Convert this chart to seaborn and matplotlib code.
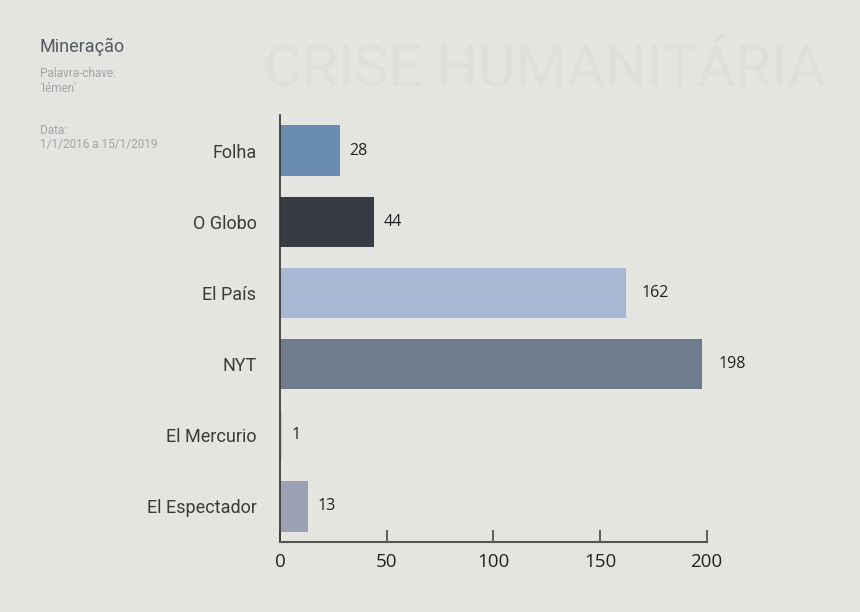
import matplotlib
matplotlib.use("Agg")
import matplotlib.pyplot as plt
import seaborn as sns
import pandas as pd

categories = ["Folha", "O Globo", "El País", "NYT", "El Mercurio", "El Espectador"]
values = [28, 44, 162, 198, 1, 13]
bar_colors = ["#6a8cb0", "#363b45", "#a6b8d4", "#6e7c8e", "#c3cfe0", "#9ba1b3"]
x_ticks = [0, 50, 100, 150, 200]

title = "Mineração"
sub1 = "Palavra-chave:\n'Iémen'"
sub2 = "Data:\n1/1/2016 a 15/1/2019"
watermark = "CRISE HUMANITÁRIA"

bg = "#e4e4e0"
sns.set_theme(style="white")
plt.rcParams['font.family'] = ['Roboto', 'DejaVu Sans']

df = pd.DataFrame({"veiculo": categories, "valor": values})

fig = plt.figure(figsize=(8.6, 6.12), dpi=100, facecolor=bg)
ax = fig.add_axes([0.3256, 0.1144, 0.8217 - 0.3256, 0.812 - 0.1144])
ax.set_facecolor(bg)

sns.barplot(data=df, x="valor", y="veiculo", hue="veiculo", palette=bar_colors,
            legend=False, width=0.71, ax=ax, saturation=1, edgecolor="none", linewidth=0)

ax.set_xlim(0, 200)
ax.set_ylim(5.5, -0.5)
ax.set_xticks(x_ticks)
ax.set_xticklabels([str(t) for t in x_ticks], fontsize=13.5, color="#222222", family="Open Sans")
ax.tick_params(axis="x", bottom=True, direction="in", length=9, width=1.3, color="#555555", pad=8)
ax.tick_params(axis="y", left=False, length=0, pad=17, labelsize=13, labelcolor="#3a3a3a")
ax.set_xlabel("")
ax.set_ylabel("")
for s in ["top", "right"]:
    ax.spines[s].set_visible(False)
ax.spines["left"].set_color("#333333")
ax.spines["left"].set_linewidth(1.2)
ax.spines["bottom"].set_color("#555555")
ax.spines["bottom"].set_linewidth(1.5)

for i, v in enumerate(values):
    ax.text(v + 7.5 if v > 100 else v + 4.5, i, str(v), va="center", ha="left",
            fontsize=11.5, color="#222222", family="Open Sans")

fig.text(0.0465, 0.915, title, fontsize=13, color="#555a62", ha="left", va="baseline")
fig.text(0.0465, 0.868, sub1, fontsize=8.5, color="#a3a5a8", ha="left", va="center",
         linespacing=1.15)
fig.text(0.0465, 0.775, sub2, fontsize=8.5, color="#a3a5a8", ha="left", va="center",
         linespacing=1.15)
fig.text(0.307, 0.885, watermark, fontsize=42, color="#dfdfda", ha="left", va="center")

fig.savefig("out.png", dpi=100, facecolor=bg)
